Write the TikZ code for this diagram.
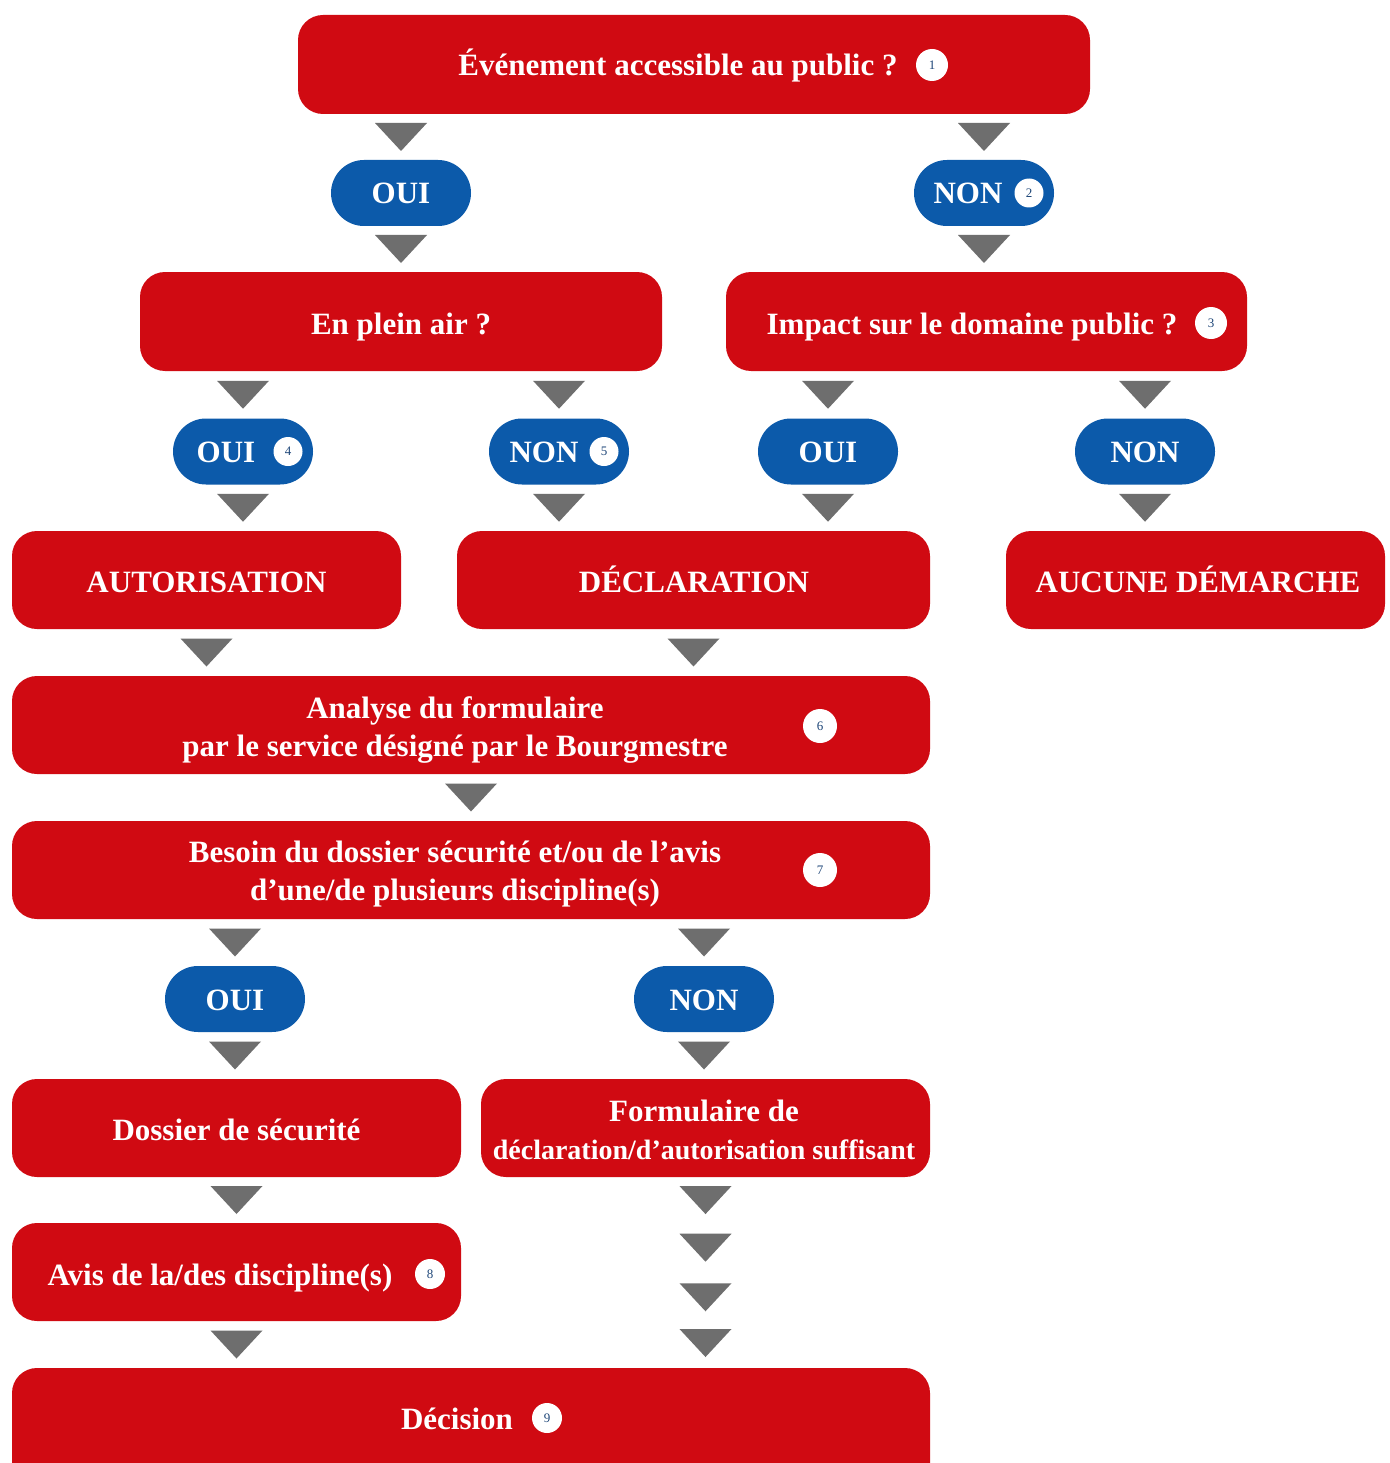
\documentclass[tikz,border=0pt]{standalone}
\usepackage{fontspec}
\setmainfont{Liberation Serif}
\usetikzlibrary{calc}
\definecolor{boxred}{RGB}{208,10,18}
\definecolor{pillblue}{RGB}{12,90,170}
\definecolor{trigray}{RGB}{110,110,110}
\definecolor{numcol}{RGB}{30,70,120}
\tikzset{
  rbox/.style={fill=boxred, rounded corners=25pt, inner sep=0pt, minimum height=98},
  pill/.style={fill=pillblue, rounded corners=33pt, inner sep=0pt, minimum width=140, minimum height=66},
  ptxt/.style={text=white, inner sep=0pt, anchor=base, font=\fontsize{31}{36}\selectfont\bfseries},
  btxt/.style={text=white, align=center, inner sep=0pt, anchor=base, font=\fontsize{31}{37.5}\selectfont\bfseries},
  numc/.style={circle, fill=white, inner sep=0pt, minimum size=32, text=numcol, font=\fontsize{13}{14}\selectfont},
  tri/.pic={\fill[trigray] (-26,-14) -- (26,-14) -- (0,14) -- cycle;}
}
\begin{document}
\begin{tikzpicture}[x=1pt,y=-1pt]
\useasboundingbox (0,0) rectangle (1389,1463);
\clip (0,0) rectangle (1389,1463);
\fill[white] (0,0) rectangle (1389,1463);
% boxes
\node[rbox, minimum width=792, minimum height=99] (q1) at (694,64.5) {};
\node[btxt] (q1t) at (678,76) {Événement accessible au public ?};
\node[numc] (n1) at (932,65) {1};

\node[pill] (p1) at (401,193) {};
\node[ptxt] (p1t) at (401,204) {OUI};
\node[pill] (p2) at (984,193) {};
\node[ptxt] (p2t) at (968,204) {NON};
\node[numc, minimum size=29] (n2) at (1029,193) {2};

\node[rbox, minimum width=522, minimum height=99] (q2) at (401,321.5) {};
\node[btxt] (q2t) at (401,334) {En plein air ?};
\node[rbox, minimum width=521, minimum height=99] (q3) at (986.5,321.5) {};
\node[btxt] (q3t) at (972,334) {Impact sur le domaine public ?};
\node[numc] (n3) at (1211,323) {3};

\node[pill] (p3) at (243,451.5) {};
\node[ptxt] (p3t) at (226,462.5) {OUI};
\node[numc, minimum size=29] (n4) at (288,451.5) {4};
\node[pill] (p4) at (559,451.5) {};
\node[ptxt] (p4t) at (544,462.5) {NON};
\node[numc, minimum size=29] (n5) at (604,451.5) {5};
\node[pill] (p5) at (828,451.5) {};
\node[ptxt] (p5t) at (828,462.5) {OUI};
\node[pill] (p6) at (1145,451.5) {};
\node[ptxt] (p6t) at (1145,462.5) {NON};

\node[rbox, minimum width=389] (aut) at (206.5,580) {};
\node[btxt] (autt) at (206.5,592) {AUTORISATION};
\node[rbox, minimum width=473] (decl) at (693.5,580) {};
\node[btxt] (declt) at (694,592) {DÉCLARATION};
\node[rbox, minimum width=379] (auc) at (1195.5,580) {};
\node[btxt] (auct) at (1198,592) {AUCUNE DÉMARCHE};

\node[rbox, minimum width=918] (ana) at (471,725) {};
\node[btxt] (anat) at (455,756) {Analyse du formulaire\\par le service désigné par le Bourgmestre};
\node[numc, minimum size=34] (n6) at (820,726) {6};

\node[rbox, minimum width=918] (bes) at (471,870) {};
\node[btxt] (best) at (455,900) {Besoin du dossier sécurité et/ou de l’avis\\d’une/de plusieurs discipline(s)};
\node[numc, minimum size=34] (n7) at (820,870) {7};

\node[pill] (p7) at (235,999) {};
\node[ptxt] (p7t) at (235,1010) {OUI};
\node[pill] (p8) at (704,999) {};
\node[ptxt] (p8t) at (704,1010) {NON};

\node[rbox, minimum width=449] (dos) at (236.5,1128) {};
\node[btxt] (dost) at (236.5,1140) {Dossier de sécurité};
\node[rbox, minimum width=449] (form) at (705.5,1128) {};
\node[btxt] (formt) at (704,1159) {Formulaire de\\\fontsize{28}{37.5}\selectfont déclaration/d’autorisation suffisant};

\node[rbox, minimum width=449] (avis) at (236.5,1272) {};
\node[btxt] (avist) at (220,1285) {Avis de la/des discipline(s)};
\node[numc, minimum size=30] (n8) at (430,1274) {8};

\node[rbox, minimum width=918, minimum height=130] (dec) at (471,1433) {};
\node[btxt] (dect) at (457,1429) {Décision};
\node[numc, minimum size=30] (n9) at (547,1418) {9};

% connectors (grey triangles)
\pic at ($(q1.south -| p1.north)!0.5!(p1.north)$) {tri};
\pic at ($(q1.south -| p2.north)!0.5!(p2.north)$) {tri};
\pic at ($(p1.south)!0.5!(p1.south |- q2.north)$) {tri};
\pic at ($(p2.south)!0.5!(p2.south |- q3.north)$) {tri};
\pic at ($(q2.south -| p3.north)!0.5!(p3.north)$) {tri};
\pic at ($(q2.south -| p4.north)!0.5!(p4.north)$) {tri};
\pic at ($(q3.south -| p5.north)!0.5!(p5.north)$) {tri};
\pic at ($(q3.south -| p6.north)!0.5!(p6.north)$) {tri};
\pic at ($(p3.south)!0.5!(p3.south |- aut.north)$) {tri};
\pic at ($(p4.south)!0.5!(p4.south |- decl.north)$) {tri};
\pic at ($(p5.south)!0.5!(p5.south |- decl.north)$) {tri};
\pic at ($(p6.south)!0.5!(p6.south |- auc.north)$) {tri};
\pic at ($(aut.south)!0.5!(aut.south |- ana.north)$) {tri};
\pic at ($(decl.south)!0.5!(decl.south |- ana.north)$) {tri};
\pic at ($(ana.south)!0.5!(bes.north)$) {tri};
\pic at ($(bes.south -| p7.north)!0.5!(p7.north)$) {tri};
\pic at ($(bes.south -| p8.north)!0.5!(p8.north)$) {tri};
\pic at ($(p7.south)!0.5!(p7.south |- dos.north)$) {tri};
\pic at ($(p8.south)!0.5!(p8.south |- form.north)$) {tri};
\pic at ($(dos.south)!0.5!(avis.north)$) {tri};
\pic at ($(avis.south)!0.5!(avis.south |- dec.north)$) {tri};
\pic at ($(form.south)!0.12!(form.south |- dec.north)$) {tri};
\pic at ($(form.south)!0.37!(form.south |- dec.north)$) {tri};
\pic at ($(form.south)!0.63!(form.south |- dec.north)$) {tri};
\pic at ($(form.south)!0.87!(form.south |- dec.north)$) {tri};
\end{tikzpicture}
\end{document}
